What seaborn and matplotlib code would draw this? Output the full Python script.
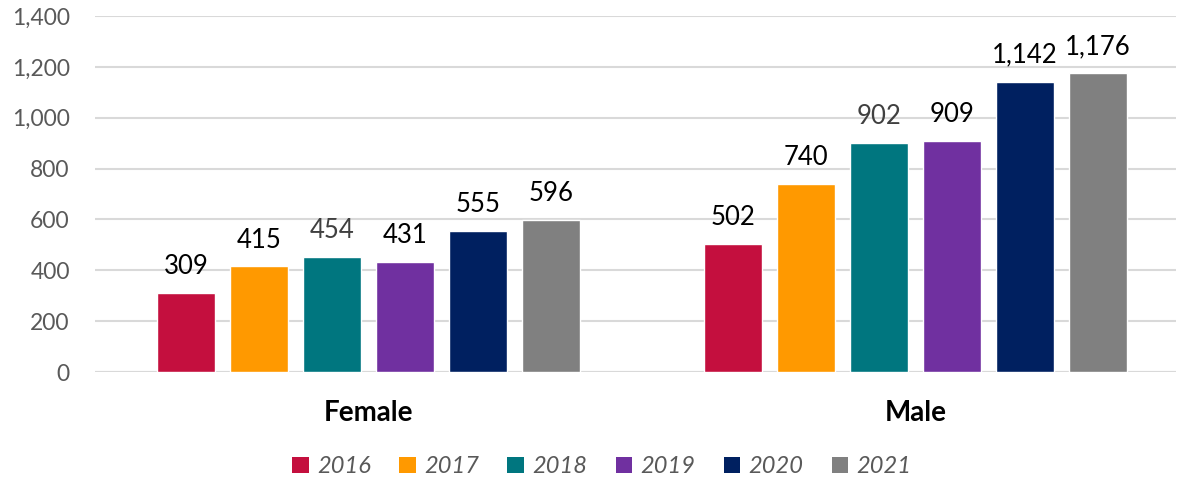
import matplotlib
matplotlib.use("Agg")
import matplotlib.pyplot as plt
import seaborn as sns
import pandas as pd
from matplotlib.patches import Patch

genders = ["Female", "Male"]
years = ["2016", "2017", "2018", "2019", "2020", "2021"]
female_values = [309, 415, 454, 431, 555, 596]
male_values = [502, 740, 902, 909, 1142, 1176]
colors = ["#C40F3E", "#FF9900", "#00767F", "#7030A0", "#002060", "#808080"]
label_colors = ["#000000", "#000000", "#404040", "#000000", "#000000", "#000000"]
yticks = [0, 200, 400, 600, 800, 1000, 1200, 1400]

rows = []
for g, vals in zip(genders, [female_values, male_values]):
    for y, v in zip(years, vals):
        rows.append({"gender": g, "year": y, "value": v})
df = pd.DataFrame(rows)

sns.set_theme(style="white")
plt.rcParams["font.family"] = ["Lato", "DejaVu Sans"]

fig = plt.figure(figsize=(11.85, 4.83), dpi=100)
ax = fig.add_axes([0.080, 0.2298, 0.912, 0.737])

sns.barplot(data=df, x="gender", y="value", hue="year", order=genders,
            hue_order=years, palette=colors, width=0.8, gap=0.2,
            saturation=1, ax=ax, legend=False, zorder=3)

for i, cont in enumerate(ax.containers):
    for bar, v in zip(cont, [female_values[i], male_values[i]]):
        ax.text(bar.get_x() + bar.get_width() / 2, bar.get_height() + 55,
                f"{v:,}", ha="center", va="bottom", fontsize=18.5,
                color=label_colors[i])

ax.set_ylim(0, 1400)
ax.set_xlim(-0.5, 1.475)
ax.set_yticks(yticks)
ax.set_yticklabels([f"{t:,}" for t in yticks], fontsize=16.5, color="#595959")
ax.yaxis.grid(True, color="#D9D9D9", linewidth=1.5, zorder=0)
ax.set_axisbelow(True)
for s in ax.spines.values():
    s.set_visible(False)
ax.axhline(0, color="#D9D9D9", linewidth=1.5, zorder=2)
ax.tick_params(axis="both", length=0)
ax.tick_params(axis="y", pad=18)
ax.tick_params(axis="x", pad=20)
ax.set_xticks([0, 1])
ax.set_xticklabels(genders, fontsize=20, fontweight="bold", color="#000000")
ax.set_xlabel("")
ax.set_ylabel("")

handles = [Patch(facecolor=c, edgecolor="none") for c in colors]
leg = fig.legend(handles, years, loc="center", bbox_to_anchor=(0.508, 0.034),
                 ncol=6, frameon=False, handlelength=0.7, handleheight=0.7,
                 handletextpad=0.35, columnspacing=1.2,
                 prop={"size": 17, "style": "italic"})
for t in leg.get_texts():
    t.set_color("#595959")

fig.savefig("out.png", dpi=100)
